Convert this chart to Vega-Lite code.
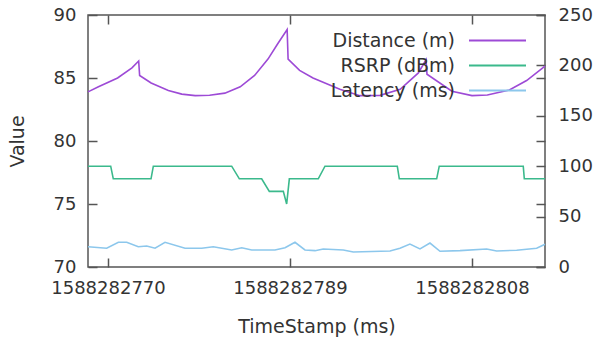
{
  "$schema": "https://vega.github.io/schema/vega-lite/v6.json",
  "width": 457,
  "height": 252,
  "autosize": "none",
  "padding": {"left": 88, "top": 15, "right": 54, "bottom": 76},
  "config": {
    "font": "DejaVu Sans",
    "view": {"stroke": "#555", "strokeWidth": 1.5},
    "axis": {"grid": false, "domain": false, "tickColor": "#555", "tickWidth": 1.5, "tickSize": -9, "labelColor": "#333", "titleColor": "#333", "labelFontSize": 18, "titleFontSize": 19, "titleFontWeight": "normal", "labelFont": "DejaVu Sans", "titleFont": "DejaVu Sans"},
    "legend": {"labelFont": "DejaVu Sans", "labelFontSize": 19, "labelColor": "#333"}
  },
  "data": {"values": [
    {"series": "Distance (m)", "t": 1588282767.91, "v": 83.9},
    {"series": "Distance (m)", "t": 1588282769.0, "v": 84.3},
    {"series": "Distance (m)", "t": 1588282771.0, "v": 85.0},
    {"series": "Distance (m)", "t": 1588282772.5, "v": 85.8},
    {"series": "Distance (m)", "t": 1588282773.2, "v": 86.35},
    {"series": "Distance (m)", "t": 1588282773.3, "v": 85.2},
    {"series": "Distance (m)", "t": 1588282774.5, "v": 84.6},
    {"series": "Distance (m)", "t": 1588282776.3, "v": 84.0},
    {"series": "Distance (m)", "t": 1588282777.7, "v": 83.72},
    {"series": "Distance (m)", "t": 1588282779.1, "v": 83.6},
    {"series": "Distance (m)", "t": 1588282780.6, "v": 83.63},
    {"series": "Distance (m)", "t": 1588282782.2, "v": 83.8},
    {"series": "Distance (m)", "t": 1588282783.8, "v": 84.3},
    {"series": "Distance (m)", "t": 1588282785.3, "v": 85.2},
    {"series": "Distance (m)", "t": 1588282786.7, "v": 86.5},
    {"series": "Distance (m)", "t": 1588282787.7, "v": 87.7},
    {"series": "Distance (m)", "t": 1588282788.7, "v": 88.85},
    {"series": "Distance (m)", "t": 1588282788.8, "v": 86.5},
    {"series": "Distance (m)", "t": 1588282790.0, "v": 85.6},
    {"series": "Distance (m)", "t": 1588282791.4, "v": 85.0},
    {"series": "Distance (m)", "t": 1588282794.2, "v": 84.1},
    {"series": "Distance (m)", "t": 1588282796.3, "v": 83.6},
    {"series": "Distance (m)", "t": 1588282798.4, "v": 83.62},
    {"series": "Distance (m)", "t": 1588282800.5, "v": 84.1},
    {"series": "Distance (m)", "t": 1588282802.4, "v": 85.4},
    {"series": "Distance (m)", "t": 1588282803.2, "v": 86.45},
    {"series": "Distance (m)", "t": 1588282803.3, "v": 85.3},
    {"series": "Distance (m)", "t": 1588282805.9, "v": 83.95},
    {"series": "Distance (m)", "t": 1588282808.0, "v": 83.6},
    {"series": "Distance (m)", "t": 1588282809.6, "v": 83.65},
    {"series": "Distance (m)", "t": 1588282811.9, "v": 84.05},
    {"series": "Distance (m)", "t": 1588282813.7, "v": 84.8},
    {"series": "Distance (m)", "t": 1588282815.62, "v": 85.95},
    {"series": "RSRP (dBm)", "t": 1588282767.91, "v": 78},
    {"series": "RSRP (dBm)", "t": 1588282770.28, "v": 78},
    {"series": "RSRP (dBm)", "t": 1588282770.55, "v": 77},
    {"series": "RSRP (dBm)", "t": 1588282774.49, "v": 77},
    {"series": "RSRP (dBm)", "t": 1588282774.73, "v": 78},
    {"series": "RSRP (dBm)", "t": 1588282782.91, "v": 78},
    {"series": "RSRP (dBm)", "t": 1588282783.71, "v": 77},
    {"series": "RSRP (dBm)", "t": 1588282786.04, "v": 77},
    {"series": "RSRP (dBm)", "t": 1588282786.84, "v": 76},
    {"series": "RSRP (dBm)", "t": 1588282788.3, "v": 76},
    {"series": "RSRP (dBm)", "t": 1588282788.65, "v": 75},
    {"series": "RSRP (dBm)", "t": 1588282788.93, "v": 77},
    {"series": "RSRP (dBm)", "t": 1588282791.95, "v": 77},
    {"series": "RSRP (dBm)", "t": 1588282792.65, "v": 78},
    {"series": "RSRP (dBm)", "t": 1588282800.2, "v": 78},
    {"series": "RSRP (dBm)", "t": 1588282800.41, "v": 77},
    {"series": "RSRP (dBm)", "t": 1588282804.31, "v": 77},
    {"series": "RSRP (dBm)", "t": 1588282804.58, "v": 78},
    {"series": "RSRP (dBm)", "t": 1588282813.35, "v": 78},
    {"series": "RSRP (dBm)", "t": 1588282813.46, "v": 77},
    {"series": "RSRP (dBm)", "t": 1588282815.62, "v": 77},
    {"series": "Latency (ms)", "t": 1588282767.91, "v": 20.1},
    {"series": "Latency (ms)", "t": 1588282769.86, "v": 18.6},
    {"series": "Latency (ms)", "t": 1588282771.08, "v": 24.5},
    {"series": "Latency (ms)", "t": 1588282771.95, "v": 24.5},
    {"series": "Latency (ms)", "t": 1588282773.16, "v": 20.1},
    {"series": "Latency (ms)", "t": 1588282774.04, "v": 20.8},
    {"series": "Latency (ms)", "t": 1588282774.91, "v": 18.6},
    {"series": "Latency (ms)", "t": 1588282775.95, "v": 24.5},
    {"series": "Latency (ms)", "t": 1588282778.04, "v": 18.6},
    {"series": "Latency (ms)", "t": 1588282779.78, "v": 18.6},
    {"series": "Latency (ms)", "t": 1588282780.99, "v": 20.1},
    {"series": "Latency (ms)", "t": 1588282782.91, "v": 16.9},
    {"series": "Latency (ms)", "t": 1588282783.96, "v": 19.1},
    {"series": "Latency (ms)", "t": 1588282785.0, "v": 16.9},
    {"series": "Latency (ms)", "t": 1588282787.43, "v": 16.9},
    {"series": "Latency (ms)", "t": 1588282788.48, "v": 19.1},
    {"series": "Latency (ms)", "t": 1588282789.52, "v": 24.5},
    {"series": "Latency (ms)", "t": 1588282790.56, "v": 16.9},
    {"series": "Latency (ms)", "t": 1588282791.61, "v": 16.2},
    {"series": "Latency (ms)", "t": 1588282792.47, "v": 17.9},
    {"series": "Latency (ms)", "t": 1588282794.56, "v": 16.9},
    {"series": "Latency (ms)", "t": 1588282795.61, "v": 14.9},
    {"series": "Latency (ms)", "t": 1588282799.44, "v": 15.9},
    {"series": "Latency (ms)", "t": 1588282800.48, "v": 18.6},
    {"series": "Latency (ms)", "t": 1588282801.52, "v": 22.8},
    {"series": "Latency (ms)", "t": 1588282802.57, "v": 17.9},
    {"series": "Latency (ms)", "t": 1588282803.61, "v": 23.8},
    {"series": "Latency (ms)", "t": 1588282804.66, "v": 15.6},
    {"series": "Latency (ms)", "t": 1588282806.74, "v": 16.2},
    {"series": "Latency (ms)", "t": 1588282809.53, "v": 17.9},
    {"series": "Latency (ms)", "t": 1588282810.57, "v": 15.9},
    {"series": "Latency (ms)", "t": 1588282812.66, "v": 16.6},
    {"series": "Latency (ms)", "t": 1588282814.75, "v": 18.6},
    {"series": "Latency (ms)", "t": 1588282815.62, "v": 22.5}
  ]},
  "encoding": {
    "x": {"field": "t", "type": "quantitative", "scale": {"domain": [1588282767.91, 1588282815.62], "nice": false, "zero": false}},
    "color": {"field": "series", "type": "nominal", "scale": {"domain": ["Distance (m)", "RSRP (dBm)", "Latency (ms)"], "range": ["#9d4ad6", "#3bb98c", "#8cc7ec"]},
      "legend": {"title": null, "orient": "top-right", "offset": 15, "padding": 0, "symbolType": "M-3,0L3,0", "symbolSize": 361, "symbolStrokeWidth": 2, "labelAlign": "right", "labelOffset": -53, "rowPadding": 4}}
  },
  "layer": [
    {
      "transform": [{"filter": "datum.series === 'Distance (m)'"}],
      "mark": {"type": "line", "strokeWidth": 1.6},
      "encoding": {
        "x": {"field": "t", "type": "quantitative", "axis": {"orient": "bottom", "values": [1588282770, 1588282789, 1588282808], "format": "d", "title": "TimeStamp (ms)", "labelPadding": 21, "titlePadding": 20}},
        "y": {"field": "v", "type": "quantitative", "scale": {"domain": [70, 90], "nice": false, "zero": false}, "axis": {"orient": "left", "values": [70, 75, 80, 85, 90], "title": "Value", "labelPadding": 21, "titlePadding": 26}}
      }
    },
    {
      "transform": [{"filter": "datum.series === 'RSRP (dBm)'"}],
      "mark": {"type": "line", "strokeWidth": 1.6},
      "encoding": {
        "x": {"field": "t", "type": "quantitative", "axis": {"orient": "top", "values": [1588282770, 1588282789, 1588282808], "labels": false, "title": null}},
        "y": {"field": "v", "type": "quantitative", "scale": {"domain": [70, 90], "nice": false, "zero": false}, "axis": {"orient": "right", "values": [70, 75, 80, 85, 90], "labels": false, "title": null}}
      }
    },
    {
      "transform": [{"filter": "datum.series === 'Latency (ms)'"}],
      "mark": {"type": "line", "strokeWidth": 1.6},
      "encoding": {
        "x": {"field": "t", "type": "quantitative", "axis": null},
        "y": {"field": "v", "type": "quantitative", "scale": {"domain": [0, 250], "nice": false}, "axis": {"orient": "right", "values": [0, 50, 100, 150, 200, 250], "title": null, "labelPadding": 22}}
      }
    }
  ],
  "resolve": {"scale": {"y": "independent"}, "axis": {"x": "independent", "y": "independent"}}
}
